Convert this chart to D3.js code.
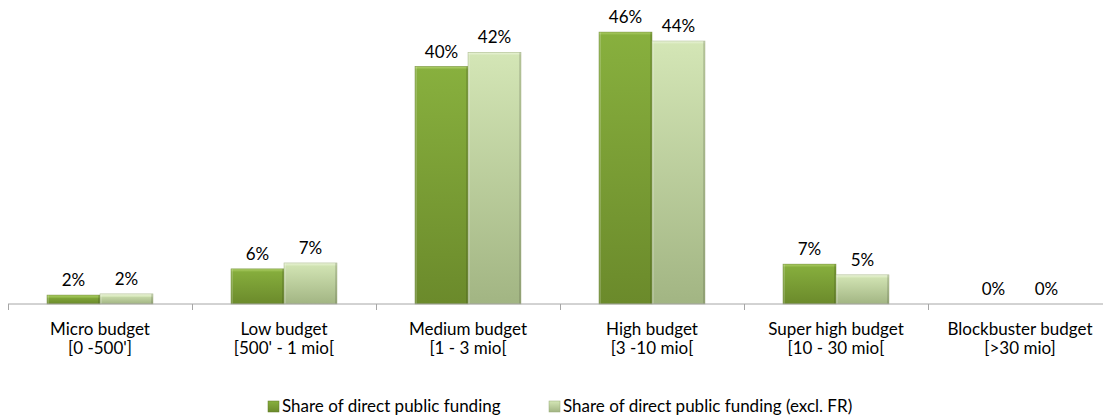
<!DOCTYPE html>
<html><head><meta charset="utf-8">
<script src="https://cdn.jsdelivr.net/npm/d3@7"></script>
<style>body{margin:0;background:#fff}svg{display:block;font-family:Lato,"Open Sans",sans-serif}</style>
</head><body>
<svg id="c" width="1103" height="416"></svg>
<script>
const categories = ["Micro budget|[0 -500']", "Low budget|[500' - 1 mio[", "Medium budget|[1 - 3 mio[", "High budget|[3 -10 mio[", "Super high budget|[10 - 30 mio[", "Blockbuster budget|[>30 mio]"];
const seriesNames = ["Share of direct public funding", "Share of direct public funding (excl. FR)"];
const shareAll = [1.5, 5.9, 39.9, 45.7, 6.7, 0];
const shareExclFR = [1.7, 6.9, 42.3, 44.2, 4.9, 0];
const labelsAll = ["2%", "6%", "40%", "46%", "7%", "0%"];
const labelsExclFR = ["2%", "7%", "42%", "44%", "5%", "0%"];

const svg = d3.select("#c");
const defs = svg.append("defs");
function grad(id, top, bot) {
  const g = defs.append("linearGradient").attr("id", id).attr("x1", 0).attr("y1", 0).attr("x2", 0).attr("y2", 1);
  g.append("stop").attr("offset", "0%").attr("stop-color", top);
  g.append("stop").attr("offset", "100%").attr("stop-color", bot);
}
grad("g0", "#88b03e", "#6b8a2b");
grad("g1", "#d4e6b6", "#a2b583");
grad("h0", "#b5d46e", "#88b03e");
grad("h1", "#eef6df", "#d4e6b6");

const x0 = d3.scaleBand().domain(d3.range(categories.length)).range([8, 1112]).paddingInner(0.424).paddingOuter(0.212);
const x1 = d3.scaleBand().domain([0, 1]).range([0, x0.bandwidth()]);
const y = d3.scaleLinear().domain([0, 50]).range([304, 6.5]);

const series = [shareAll, shareExclFR];
const labels = [labelsAll, labelsExclFR];
const fills = ["url(#g0)", "url(#g1)"];
const hi = ["url(#h0)", "url(#h1)"];
const strokes = ["#5f7a25", "#98aa78"];

series.forEach((vals, s) => {
  const g = svg.append("g");
  vals.forEach((v, i) => {
    const bx = x0(i) + x1(s), bw = x1.bandwidth(), by = y(v), bh = y(0) - y(v);
    if (bh > 0) {
      g.append("rect").attr("x", bx).attr("y", by).attr("width", bw).attr("height", bh).attr("fill", fills[s]);
      const b = Math.min(3, bh / 2);
      g.append("rect").attr("x", bx).attr("y", by).attr("width", bw).attr("height", b).attr("fill", hi[s]).attr("opacity", 0.9);
      g.append("rect").attr("x", bx).attr("y", by).attr("width", 2).attr("height", bh).attr("fill", "#fff").attr("opacity", 0.18);
      g.append("rect").attr("x", bx + bw - 2).attr("y", by).attr("width", 2).attr("height", bh).attr("fill", "#000").attr("opacity", 0.12);
      g.append("rect").attr("x", bx).attr("y", by).attr("width", bw).attr("height", bh).attr("fill", "none").attr("stroke", strokes[s]).attr("stroke-width", 0.6).attr("opacity", 0.7);
    }
    g.append("text").attr("x", bx + bw / 2).attr("y", by - 9).attr("text-anchor", "middle")
      .attr("font-size", 17).attr("fill", "#000").text(labels[s][i]);
  });
});

const axis = d3.axisBottom(d3.scaleLinear().domain([0, 6]).range([8, 1112])).tickValues(d3.range(7)).tickSize(6).tickFormat("");
const ag = svg.append("g").attr("transform", "translate(0,304)").call(axis);
ag.selectAll("path,line").attr("stroke", "#a6a6a6");
ag.select(".domain").attr("d", "M8,0H1112");

categories.forEach((c, i) => {
  const parts = c.split("|");
  const cx = x0(i) + x0.bandwidth() / 2;
  const t = svg.append("text").attr("text-anchor", "middle").attr("font-size", 17).attr("fill", "#000");
  t.append("tspan").attr("x", cx).attr("y", 335).text(parts[0]);
  t.append("tspan").attr("x", cx).attr("y", 354).text(parts[1]);
});

const legX = [268, 549];
seriesNames.forEach((n, s) => {
  svg.append("rect").attr("x", legX[s]).attr("y", 401).attr("width", 11).attr("height", 11).attr("fill", fills[s]).attr("stroke", strokes[s]).attr("stroke-width", 0.5);
  svg.append("text").attr("x", legX[s] + 14).attr("y", 412).attr("font-size", 17).attr("fill", "#000").text(n);
});
</script>
</body></html>
